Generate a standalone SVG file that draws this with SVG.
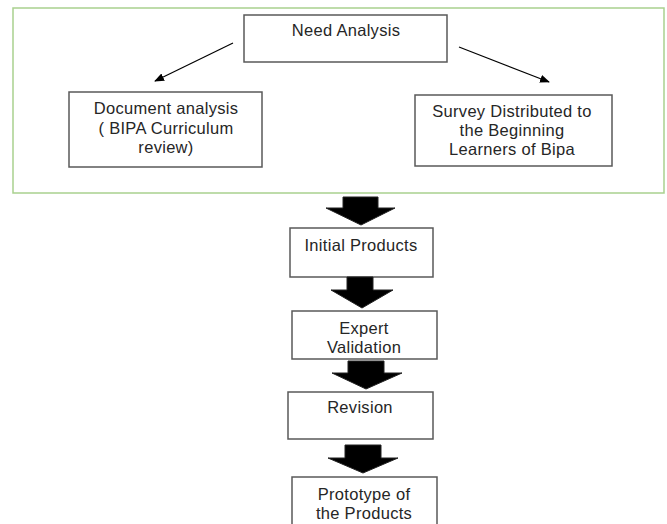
<svg xmlns="http://www.w3.org/2000/svg" width="667" height="524" viewBox="0 0 667 524">
<style>
.box{fill:#fff;stroke:#595959;stroke-width:1.5}
.t{font-family:"Liberation Sans",Arial,sans-serif;font-size:16.5px;letter-spacing:0.3px;fill:#262626;text-anchor:middle;dominant-baseline:central}
.ln{stroke:#000;stroke-width:1.2;fill:none;marker-end:url(#ah)}
.blk{fill:#000;stroke:#222;stroke-width:1}
</style>
<defs>
<marker id="ah" markerWidth="10" markerHeight="8" refX="9" refY="4" orient="auto" markerUnits="userSpaceOnUse">
<path d="M0,0 L10,4 L0,8 Z" fill="#000"/>
</marker>
</defs>
<rect x="13" y="8" width="651" height="185" fill="#fff" stroke="#a9d18e" stroke-width="1.5"/>
<g id="need"><rect class="box" x="244" y="15" width="203" height="47"/><text class="t" x="346" y="30">Need Analysis</text></g>
<g id="doc"><rect class="box" x="69" y="92" width="193" height="75"/><text class="t" x="166" y="108">Document analysis</text><text class="t" x="166" y="127.5">( BIPA Curriculum</text><text class="t" x="166" y="147">review)</text></g>
<g id="survey"><rect class="box" x="415" y="95" width="197" height="71"/><text class="t" x="512" y="111">Survey Distributed to</text><text class="t" x="512" y="130">the Beginning</text><text class="t" x="512" y="149">Learners of Bipa</text></g>
<g id="initial"><rect class="box" x="290" y="228" width="143" height="49"/><text class="t" x="361" y="245">Initial Products</text></g>
<g id="expert"><rect class="box" x="292" y="311" width="145" height="48"/><text class="t" x="364" y="328">Expert</text><text class="t" x="364" y="347">Validation</text></g>
<g id="revision"><rect class="box" x="288" y="392" width="145" height="47"/><text class="t" x="360" y="407">Revision</text></g>
<g id="prototype"><rect class="box" x="292" y="477" width="145" height="60"/><text class="t" x="364" y="494">Prototype  of</text><text class="t" x="364" y="513">the Products</text></g>
<g id="connectors">
<line class="ln" x1="233" y1="43" x2="155" y2="81"/>
<line class="ln" x1="459" y1="47" x2="549" y2="82"/>
<polygon class="blk" points="343,197 378,197 378,208 395,208 361,225 326,208 343,208"/>
<polygon class="blk" points="347,277 373,277 373,290 393,290 362,308 331,290 347,290"/>
<polygon class="blk" points="348,361 384,361 384,373 402,373 366,389 332,373 348,373"/>
<polygon class="blk" points="345,445 381,445 381,458 398,458 363,473 328,458 345,458"/>
</g>
</svg>
